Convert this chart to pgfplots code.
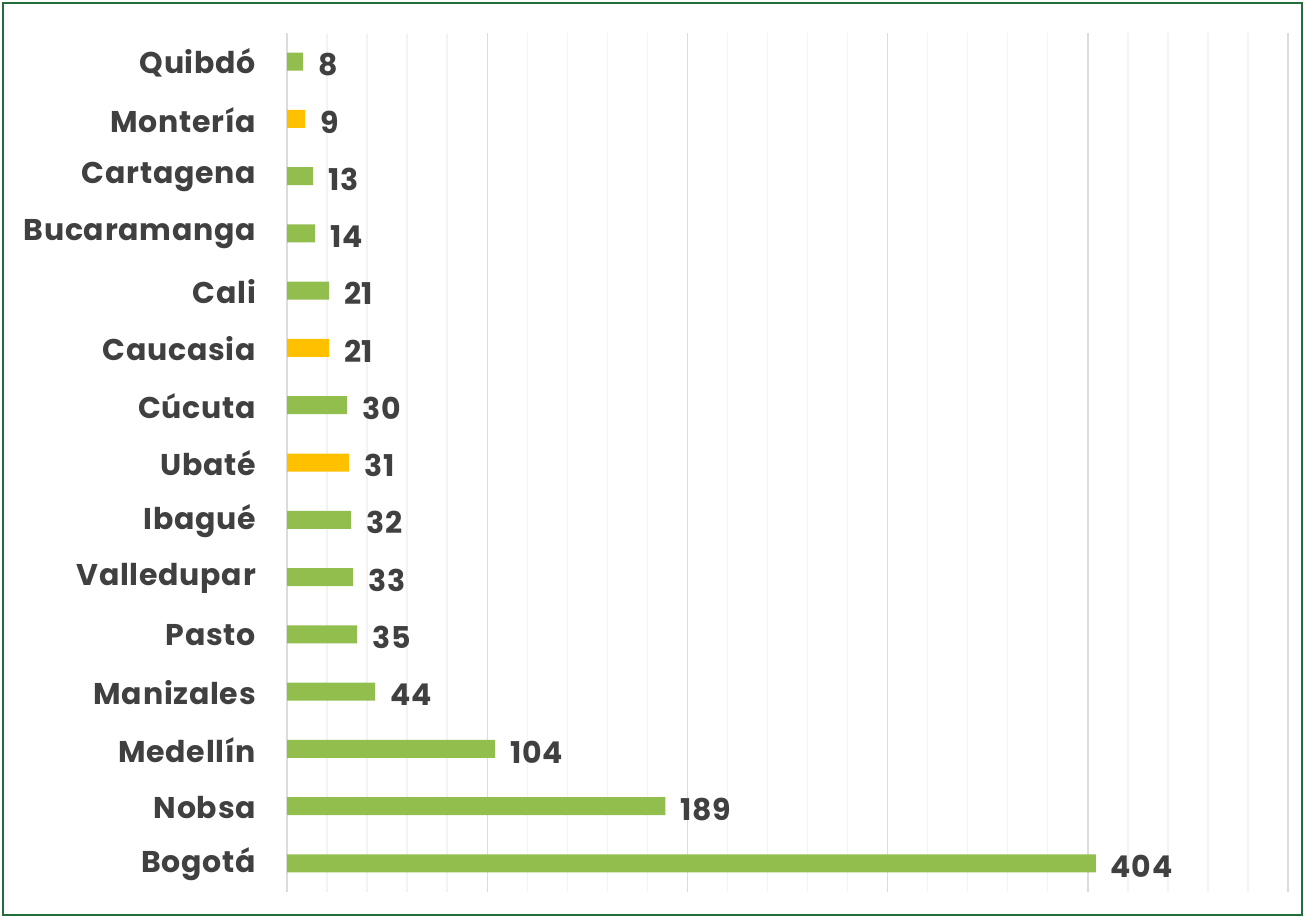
\documentclass[border=0pt]{standalone}
\usepackage{fontspec}
\setmainfont{Poppins}[LetterSpace=2.5]
\usepackage{pgfplots}
\pgfplotsset{compat=1.18}
\definecolor{bargreen}{RGB}{146,190,77}
\definecolor{barorange}{RGB}{255,192,0}
\definecolor{txt}{RGB}{64,64,64}
\definecolor{frame}{RGB}{33,110,60}
\definecolor{gridmajor}{RGB}{220,220,220}
\definecolor{gridminor}{RGB}{243,243,243}
\begin{document}
\begin{tikzpicture}
\path[use as bounding box] (0,0) rectangle (652pt,458.5pt);
\draw[frame, line width=1pt] (1.5pt,1pt) rectangle (651pt,457pt);
\begin{axis}[
  at={(143.5pt,12.5pt)}, anchor=south west,
  scale only axis, width=500.5pt, height=429.5pt,
  xmin=0, xmax=500, ymin=-0.5, ymax=14.5,
  xbar, bar width=9pt, bar shift=0pt,
  axis line style={draw=none},
  xtick={0,100,...,500}, minor xtick={20,40,...,480},
  xticklabels={},
  major tick length=0pt, minor tick length=0pt,
  xmajorgrids, xminorgrids,
  major grid style={draw=gridmajor, line width=0.7pt},
  minor grid style={draw=gridminor, line width=0.7pt},
  ytick={0,...,14},
  yticklabels={Bogotá,Nobsa,Medellín,Manizales,Pasto,Valledupar,Ibagué,Ubaté,Cúcuta,Caucasia,Cali,Bucaramanga,Cartagena,Montería,Quibdó},
  yticklabel style={font=\fontsize{15}{17}\selectfont\bfseries, text=txt, xshift=-12pt, yshift=-0.5pt},
  nodes near coords,
  nodes near coords style={font=\fontsize{15}{17}\selectfont\bfseries, text=txt, anchor=west, xshift=4pt, yshift=-1.5pt},
  point meta=explicit symbolic,
]
\addplot[fill=bargreen, draw=none] coordinates {
 (404,0) [404] (189,1) [189] (104,2) [104] (44,3) [44] (35,4) [35] (33,5) [33] (32,6) [32]
 (30,8) [30] (21,10) [21] (14,11) [14] (13,12) [13] (8,14) [8]
};
\addplot[fill=barorange, draw=none] coordinates {
 (31,7) [31] (21,9) [21] (9,13) [9]
};
\end{axis}
\end{tikzpicture}
\end{document}
